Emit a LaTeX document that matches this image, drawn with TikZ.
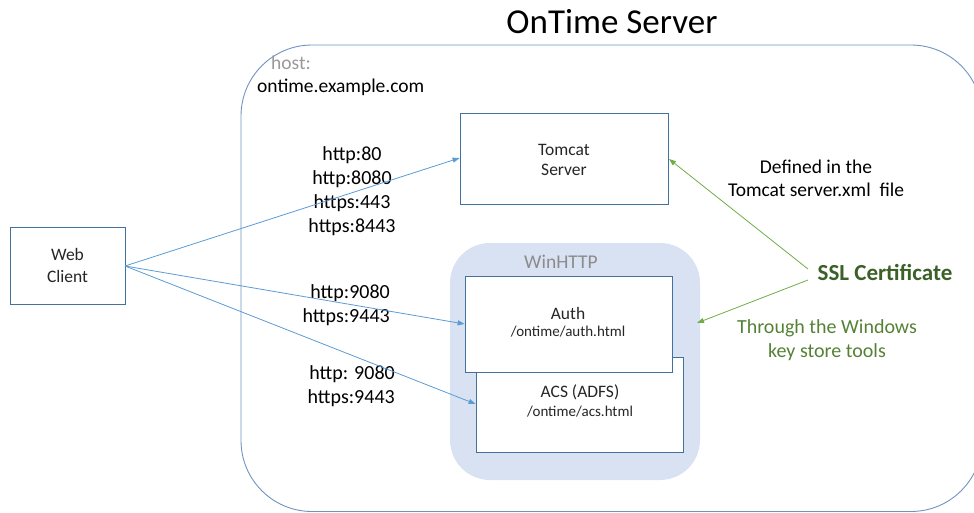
\documentclass[tikz,border=0pt]{standalone}
\usepackage{fontspec}
\setmainfont{Carlito}
\usetikzlibrary{arrows.meta}
\definecolor{boxblue}{HTML}{41719C}
\definecolor{arrowblue}{HTML}{5B9BD5}
\definecolor{outerblue}{HTML}{6F93C0}
\definecolor{winfill}{HTML}{D9E2F3}
\definecolor{certgreen}{HTML}{70AD47}
\definecolor{darkgreen}{HTML}{3B6129}
\definecolor{midgreen}{HTML}{548235}
\begin{document}
\begin{tikzpicture}[x=1pt,y=-1pt,
  wbox/.style={draw=boxblue,fill=white,line width=0.8pt,inner sep=0pt},
  barrow/.style={draw=arrowblue,line width=0.8pt,-{Triangle[length=7pt,width=5pt]}},
  garrow/.style={draw=certgreen,line width=0.8pt,-{Triangle[length=7pt,width=5pt]}},
  lbl/.style={font=\fontsize{20}{24}\selectfont,align=center,inner sep=0pt},
  boxtxt/.style={align=center,inner sep=0pt,text=black!85}]
\useasboundingbox (0,0) rectangle (974,513);
\begin{scope}
\clip (0,0) rectangle (974,513);
\draw[outerblue,line width=0.9pt,rounded corners=71pt] (241,45) rectangle (982,511.5);
\end{scope}
\node[inner sep=0pt,font=\fontsize{35}{40}\selectfont] (title) at (612,22) {OnTime Server};
\node[inner sep=0pt,anchor=west,text=black!40,font=\fontsize{19.5}{22}\selectfont] (host) at (271,63) {host:};
\node[inner sep=0pt,anchor=west,font=\fontsize{19.5}{22}\selectfont] (hostname) at (257,87) {ontime.example.com};
% Tomcat
\node[wbox,minimum width=208pt,minimum height=91pt] (tomcat) at (564,158.5) {};
\node[boxtxt,font=\fontsize{17.5}{20}\selectfont] (tomcattxt) at (564,160) {Tomcat\\Server};
% Web client
\node[wbox,minimum width=115pt,minimum height=77pt] (web) at (67.5,265.5) {};
\node[boxtxt,font=\fontsize{17.5}{22}\selectfont] (webtxt) at (67.5,265) {Web\\Client};
% WinHTTP
\node[fill=winfill,rounded corners=40pt,minimum width=250pt,minimum height=237pt,inner sep=0pt] (winhttp) at (575,361.5) {};
\node[inner sep=0pt,text=black!45,font=\fontsize{19.5}{22}\selectfont] (wintxt) at (561,262) {WinHTTP};
\node[wbox,minimum width=207pt,minimum height=95pt] (acs) at (579.5,404.5) {};
\node[wbox,minimum width=207pt,minimum height=96pt] (auth) at (568.5,324) {};
\node[boxtxt,font=\fontsize{17.5}{20}\selectfont] (authtxt) at (568,313) {Auth};
\node[inner sep=0pt,font=\fontsize{15}{17}\selectfont,text=black!85] (authurl) at (568,332) {/ontime/auth.html};
\node[boxtxt,font=\fontsize{17.5}{20}\selectfont] (acstxt) at (580,392) {ACS (ADFS)};
\node[inner sep=0pt,font=\fontsize{15}{17}\selectfont,text=black!85] (acsurl) at (580,412) {/ontime/acs.html};
% port labels
\node[lbl] (p1) at (352,191) {http:80\\http:8080\\https:443\\https:8443};
\node[lbl,align=right,anchor=east] (p2) at (390,305) {http:9080\\https:9443};
\node[lbl,align=right,anchor=east] (p3) at (395,386) {http: 9080\\https:9443};
% arrows
\coordinate (wc) at (125,266);
\draw[barrow] (wc) -- (tomcat.west |- 0,158);
\draw[barrow] (wc) -- (auth.west |- 0,324);
\draw[barrow] (wc) -- (acs.west |- 0,404);
% right side
\node[lbl,font=\fontsize{19.5}{23}\selectfont] (defined) at (816,178.5) {Defined in the\\Tomcat server.xml\ \ file};
\node[inner sep=0pt,text=darkgreen,font=\bfseries\fontsize{23}{26}\selectfont] (ssl) at (885,272) {SSL Certificate};
\node[lbl,text=midgreen,font=\fontsize{20}{24}\selectfont] (through) at (827,340) {Through the Windows\\key store tools};
\coordinate (s1) at (808,269);
\coordinate (s2) at (808,280);
\draw[garrow] (s1) -- (669,159);
\draw[garrow] (s2) -- (697,323);
\end{tikzpicture}
\end{document}
